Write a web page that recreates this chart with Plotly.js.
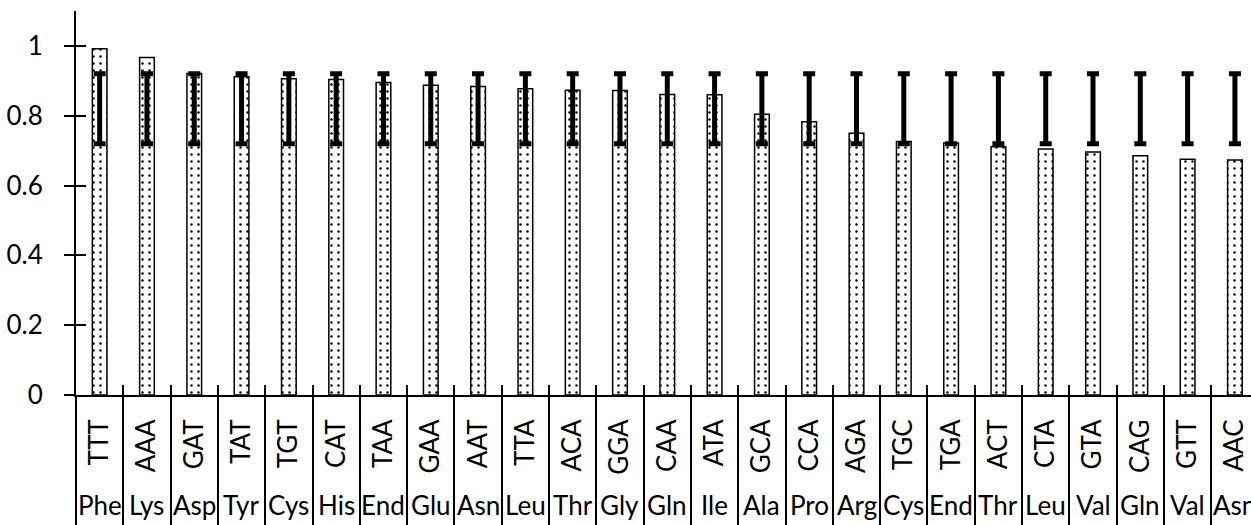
<!DOCTYPE html>
<html>
<head>
<meta charset="utf-8">
<script src="https://cdn.plot.ly/plotly-3.0.1.min.js"></script>
<style>html,body{margin:0;padding:0;background:#fff;}#chart{width:1251px;height:525px;}</style>
</head>
<body>
<div id="chart"></div>
<script>
const codons = ["TTT","AAA","GAT","TAT","TGT","CAT","TAA","GAA","AAT","TTA","ACA","GGA","CAA","ATA","GCA","CCA","AGA","TGC","TGA","ACT","CTA","GTA","CAG","GTT","AAC"];
const aminoAcids = ["Phe","Lys","Asp","Tyr","Cys","His","End","Glu","Asn","Leu","Thr","Gly","Gln","Ile","Ala","Pro","Arg","Cys","End","Thr","Leu","Val","Gln","Val","Asn"];
const values = [0.992,0.967,0.921,0.912,0.906,0.904,0.895,0.887,0.884,0.877,0.873,0.872,0.861,0.860,0.804,0.783,0.750,0.726,0.722,0.711,0.705,0.696,0.685,0.675,0.673];
const errLow = codons.map(() => 0.72);
const errHigh = codons.map(() => 0.92);

const errCenter = errLow.map((l, i) => (l + errHigh[i]) / 2);
const errHalf = errLow.map((l, i) => (errHigh[i] - l) / 2);

const FONT = "Lato, 'Open Sans', sans-serif";
const xRange = [-0.5, 24.34];
const yRange = [0, 1.1];

const bars = {
  type: "bar",
  x: codons,
  y: values,
  width: 0.31,
  marker: {
    color: "white",
    line: {color: "black", width: 1.5},
    pattern: {shape: ".", fgcolor: "black", bgcolor: "white", size: 7, solidity: 0.1}
  },
  hoverinfo: "skip"
};

const errs = {
  type: "scatter",
  mode: "markers",
  x: codons,
  y: errCenter,
  xaxis: "x2",
  yaxis: "y2",
  marker: {color: "rgba(0,0,0,0)", size: 1},
  error_y: {type: "data", array: errHalf, visible: true, color: "black", thickness: 5, width: 6},
  hoverinfo: "skip"
};

const annotations = codons.map((c, i) => ({
  x: c, xref: "x", y: 0, yref: "y",
  yshift: -110, yanchor: "middle", xanchor: "center",
  text: aminoAcids[i], showarrow: false,
  font: {family: FONT, size: 26, color: "black"}
}));

const layout = {
  width: 1251, height: 525,
  margin: {l: 76, r: 0, t: 11, b: 130},
  paper_bgcolor: "white", plot_bgcolor: "white",
  showlegend: false,
  font: {family: FONT, color: "black"},
  xaxis: {
    type: "category", categoryorder: "array", categoryarray: codons,
    range: xRange, fixedrange: true,
    showline: true, linecolor: "black", linewidth: 2,
    showgrid: false, zeroline: false,
    ticks: "inside", ticklen: 10, tickwidth: 2, tickcolor: "black", tickson: "boundaries",
    tickangle: -90, tickfont: {family: FONT, size: 26, color: "black"},
    ticklabelstandoff: 12
  },
  xaxis2: {
    type: "category", categoryorder: "array", categoryarray: codons,
    range: xRange, overlaying: "x", anchor: "y2", side: "bottom",
    showline: false, showgrid: false, zeroline: false,
    ticks: "outside", ticklen: 132, tickwidth: 2, tickcolor: "black", tickson: "boundaries",
    showticklabels: false
  },
  yaxis: {
    range: yRange, dtick: 0.2, tick0: 0,
    showline: true, linecolor: "black", linewidth: 2,
    showgrid: false, zeroline: false,
    ticks: "outside", ticklen: 10, tickwidth: 2, tickcolor: "black",
    tickfont: {family: FONT, size: 26, color: "black"},
    ticklabelstandoff: 16
  },
  yaxis2: {
    range: yRange, dtick: 0.2, tick0: 0, overlaying: "y", anchor: "x2", side: "left",
    showline: false, showgrid: false, zeroline: false,
    ticks: "inside", ticklen: 10, tickwidth: 2, tickcolor: "black",
    showticklabels: false
  },
  annotations: annotations
};

Plotly.newPlot("chart", [bars, errs], layout, {staticPlot: true, displayModeBar: false});
</script>
</body>
</html>
